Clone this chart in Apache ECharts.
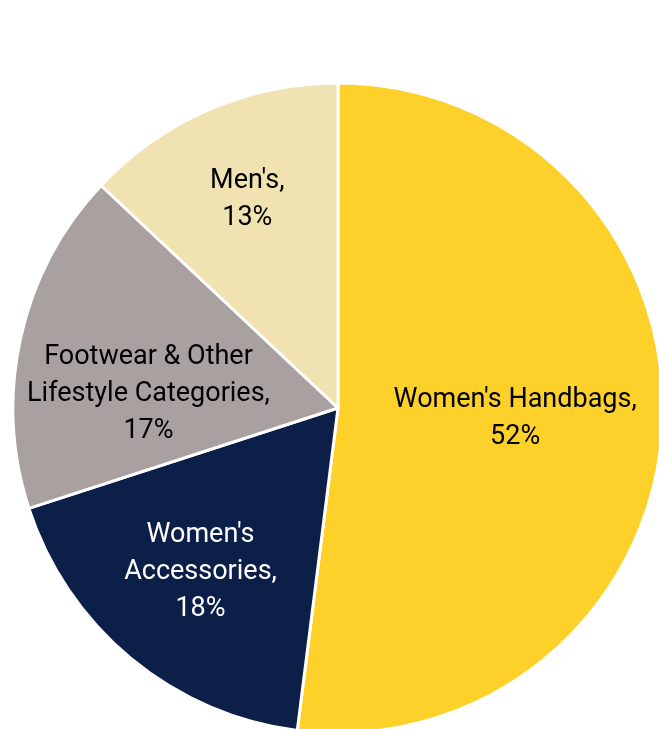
<!DOCTYPE html>
<html>
<head>
<meta charset="utf-8">
<script src="https://cdn.jsdelivr.net/npm/echarts@6/dist/echarts.min.js"></script>
<style>
  html, body { margin: 0; padding: 0; background: #ffffff; }
  #chart { width: 659px; height: 729px; }
</style>
</head>
<body>
<div id="chart"></div>
<script>
// Revenue mix by product category (percent)
const categories = ['Women\'s Handbags', 'Women\'s\nAccessories', 'Footwear & Other\nLifestyle Categories', 'Men\'s'];
const shares = [52, 18, 17, 13];
const colors = ['#FDD12A', '#0B1F49', '#A9A0A0', '#F1E3B1'];
const textColors = ['#000000', '#ffffff', '#000000', '#000000'];
// label nudges (px) from the default inside anchor
const labelOffsets = [[12, 0], [-32, 37], [-28, 22], [-25, -56]];

const chart = echarts.init(document.getElementById('chart'));
chart.setOption({
  animation: false,
  series: [{
    type: 'pie',
    center: [338, 408],
    radius: [0, 325],
    startAngle: 90,
    clockwise: true,
    label: {
      show: true,
      position: 'inside',
      fontFamily: 'Roboto',
      fontSize: 27,
      lineHeight: 37,
      align: 'center',
      formatter: p => p.name + ',\n' + p.value + '%'
    },
    labelLine: { show: false },
    itemStyle: { borderColor: '#ffffff', borderWidth: 3 },
    emphasis: { disabled: true },
    data: categories.map((name, i) => ({
      name: name,
      value: shares[i],
      itemStyle: { color: colors[i] },
      label: { color: textColors[i], offset: labelOffsets[i] }
    }))
  }]
});
</script>
</body>
</html>
